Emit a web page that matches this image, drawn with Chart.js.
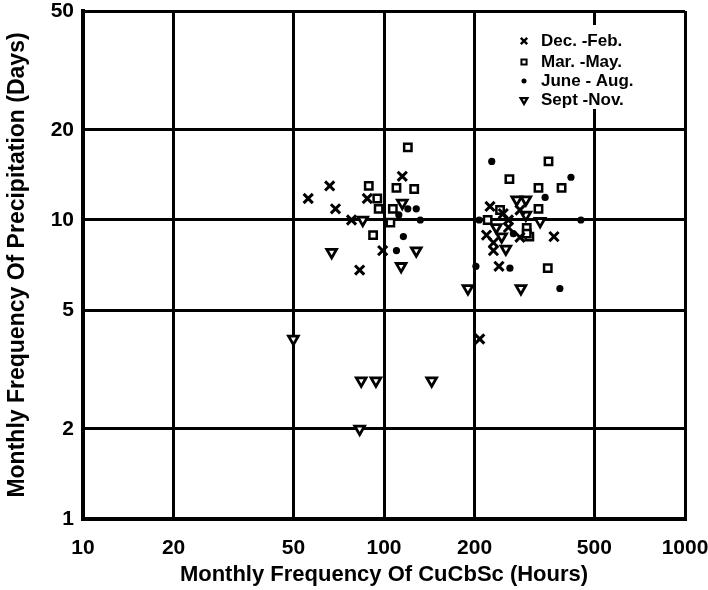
<!DOCTYPE html>
<html>
<head>
<meta charset="utf-8">
<script src="https://cdn.jsdelivr.net/npm/chart.js@4/dist/chart.umd.min.js"></script>
<style>
  body { margin: 0; background: #fff; }
  #c { display: block; }
</style>
</head>
<body>
<canvas id="c" width="708" height="590"></canvas>
<script>
const xTicks = [10, 20, 50, 100, 200, 500, 1000];
const yTicks = [1, 2, 5, 10, 20, 50];

// Dec.-Feb. (x marks)
const decFebHours = [66, 115, 56, 88, 69, 78, 99, 83, 225, 249, 283, 259, 259, 219, 283, 367, 231, 231, 241, 208];
const decFebDays  = [13, 14, 11.8, 11.8, 10.9, 10, 7.9, 6.8, 11.1, 10.5, 10.8, 10, 9.45, 8.9, 8.75, 8.8, 8.4, 7.9, 7, 4];

// Mar.-May (open squares)
const marMayHours = [120, 89, 110, 126, 95, 96, 107, 105, 92, 352, 261, 326, 389, 243, 326, 221, 298, 304, 350, 298];
const marMayDays  = [17.5, 13, 12.8, 12.7, 11.8, 10.9, 10.9, 9.8, 8.9, 15.7, 13.7, 12.8, 12.8, 10.8, 10.9, 10, 9.4, 8.8, 6.9, 9.0];

// June-Aug. (dots)
const juneAugHours = [120, 128, 112, 132, 116, 110, 228, 418, 343, 207, 451, 269, 202, 262, 384];
const juneAugDays  = [10.9, 10.9, 10.4, 10, 8.8, 7.9, 15.7, 13.9, 11.9, 10, 10, 9, 7, 6.9, 5.9];

// Sept-Nov. (open down triangles)
const septNovHours = [115, 85, 67, 128, 114, 190, 50, 84, 94, 144, 83, 276, 296, 296, 330, 236, 246, 254, 285];
const septNovDays  = [11.4, 10, 7.8, 7.9, 7, 5.9, 4, 2.9, 2.9, 2.9, 2, 11.7, 11.7, 10.4, 9.9, 9.45, 8.8, 8, 5.9];

const seriesLabels = ['Dec. -Feb.', 'Mar. -May.', 'June - Aug.', 'Sept -Nov.'];

const toPoints = (xs, ys) => xs.map((x, i) => ({ x, y: ys[i] }));

const FONT = "'Liberation Sans', Arial, sans-serif";

const styles = [
  { pointStyle: 'crossRot', radius: 6.5, rotation: 0, borderWidth: 3, fill: '#000' },
  { pointStyle: 'rect', radius: 5.2, rotation: 0, borderWidth: 2.5, fill: '#fff' },
  { pointStyle: 'circle', radius: 3.6, rotation: 0, borderWidth: 0, fill: '#000' },
  { pointStyle: 'triangle', radius: 5.6, rotation: 180, borderWidth: 2.8, fill: '#fff' },
];

const data = [
  toPoints(decFebHours, decFebDays),
  toPoints(marMayHours, marMayDays),
  toPoints(juneAugHours, juneAugDays),
  toPoints(septNovHours, septNovDays),
];

const datasets = data.map((d, i) => ({
  label: seriesLabels[i],
  data: d,
  pointStyle: styles[i].pointStyle,
  pointRadius: styles[i].radius,
  pointRotation: styles[i].rotation,
  pointBorderWidth: styles[i].borderWidth,
  pointBorderColor: '#000',
  pointBackgroundColor: styles[i].fill,
  showLine: false,
}));

// legend drawn inside the plot, top right, on a white patch
const boxLegend = {
  id: 'boxLegend',
  afterDatasetsDraw(chart) {
    const ctx = chart.ctx;
    ctx.save();
    ctx.fillStyle = '#fff';
    ctx.fillRect(512, 25, 170, 84);
    ctx.font = 'bold 17px ' + FONT;
    ctx.textBaseline = 'middle';
    const rows = [41, 62, 81, 100];
    seriesLabels.forEach((lab, i) => {
      const s = styles[i];
      ctx.fillStyle = s.fill;
      ctx.strokeStyle = '#000';
      ctx.lineWidth = (s.borderWidth || 1) * 0.8;
      Chart.helpers.drawPoint(ctx, {
        pointStyle: s.pointStyle, radius: s.radius * 0.7,
        rotation: s.rotation, borderWidth: s.borderWidth
      }, 524, rows[i]);
      ctx.fillStyle = '#000';
      ctx.fillText(lab, 541, rows[i]);
    });
    ctx.restore();
  }
};

new Chart(document.getElementById('c'), {
  type: 'scatter',
  data: { datasets },
  plugins: [boxLegend],
  options: {
    responsive: false,
    animation: false,
    devicePixelRatio: 1,
    layout: { padding: { top: 11, right: 23, left: 0, bottom: 0 } },
    plugins: { legend: { display: false }, tooltip: { enabled: false } },
    scales: {
      x: {
        type: 'logarithmic',
        min: 10, max: 1000,
        afterBuildTicks: s => { s.ticks = xTicks.map(v => ({ value: v })); },
        afterFit: s => { s.height = 71; s.paddingLeft = 0; s.paddingRight = 0; },
        ticks: {
          color: '#000', padding: 17, maxRotation: 0,
          font: { family: FONT, size: 21, weight: 'bold' },
          callback: v => String(v)
        },
        grid: { color: '#000', lineWidth: 3, drawTicks: false },
        border: { color: '#000', width: 4 },
        title: {
          display: true, text: 'Monthly Frequency Of CuCbSc (Hours)', color: '#000',
          font: { family: FONT, size: 22, weight: 'bold' }, padding: { top: 0, bottom: 2 }
        }
      },
      y: {
        type: 'logarithmic',
        min: 1, max: 50,
        afterBuildTicks: s => { s.ticks = yTicks.map(v => ({ value: v })); },
        afterFit: s => { s.width = 83; s.paddingTop = 0; s.paddingBottom = 0; },
        ticks: {
          color: '#000', padding: 9,
          font: { family: FONT, size: 21, weight: 'bold' },
          callback: v => String(v)
        },
        grid: { color: '#000', lineWidth: 3, drawTicks: false },
        border: { color: '#000', width: 4 },
        title: {
          display: true, text: 'Monthly Frequency Of Precipitation (Days)', color: '#000',
          font: { family: FONT, size: 23, weight: 'bold' }, padding: { top: 4, bottom: 0 }
        }
      }
    }
  }
});
</script>
</body>
</html>
